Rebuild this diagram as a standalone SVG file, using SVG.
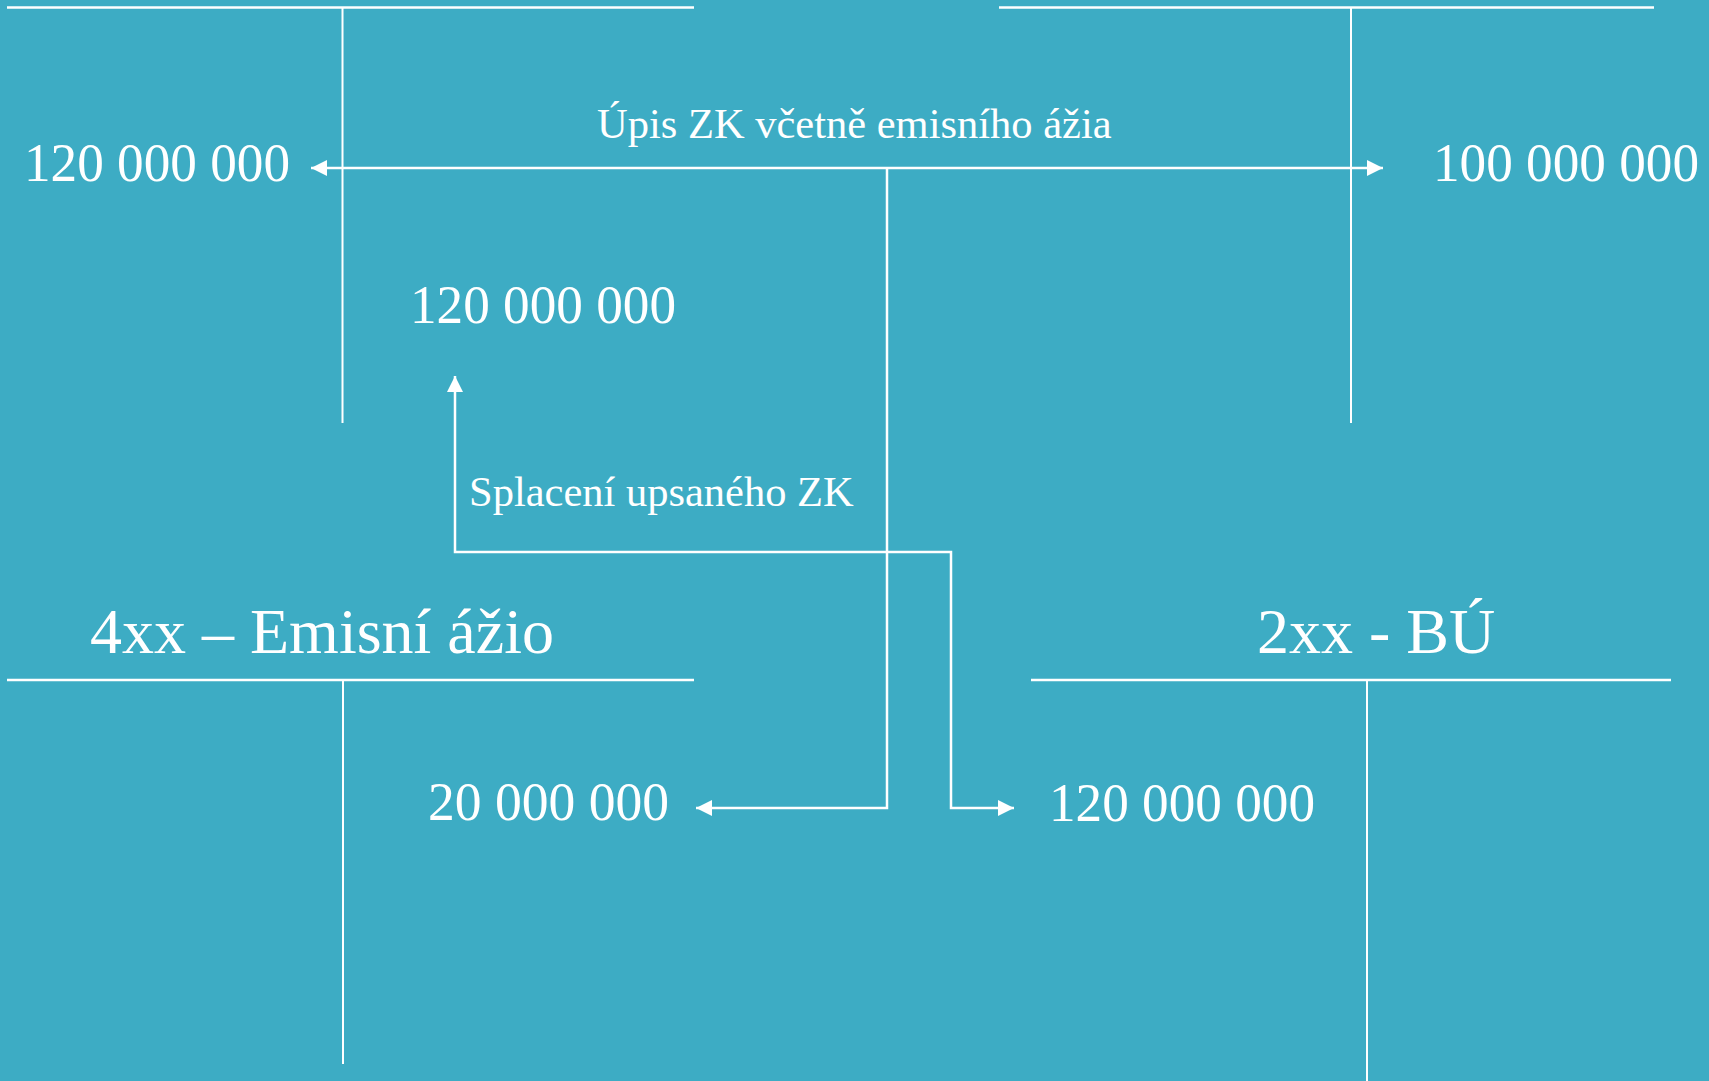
<svg xmlns="http://www.w3.org/2000/svg" width="1709" height="1081" viewBox="0 0 1709 1081">
<style>
.t{font-family:"Liberation Serif","Times New Roman",serif;fill:#ffffff}
.num{font-size:54px}
.lbl{font-size:42.5px}
.ttl{font-size:64px}
.h{stroke:#ffffff;stroke-width:2.5;fill:none}
.v{stroke:#ffffff;stroke-width:2;fill:none}
.c{stroke:#ffffff;stroke-width:2.5;fill:none}
</style>
<defs>
<marker id="ah" viewBox="0 0 16 16" refX="16" refY="8" markerWidth="16" markerHeight="16" markerUnits="userSpaceOnUse" orient="auto-start-reverse">
<path d="M0,0 L16,8 L0,16 z" fill="#ffffff"/>
</marker>
</defs>
<rect x="0" y="0" width="1709" height="1081" fill="#3dacc4"/>
<g id="acc-zk">
<line class="h" x1="7" y1="7.5" x2="694" y2="7.5"/>
<line class="v" x1="342.5" y1="8" x2="342.5" y2="423"/>
<text class="t num" x="24" y="181" textLength="266" lengthAdjust="spacingAndGlyphs">120 000 000</text>
<text class="t num" x="410" y="323" textLength="266" lengthAdjust="spacingAndGlyphs">120 000 000</text>
</g>
<g id="acc-right">
<line class="h" x1="999" y1="7.5" x2="1654" y2="7.5"/>
<line class="v" x1="1351" y1="8" x2="1351" y2="423"/>
<text class="t num" x="1433" y="181" textLength="266" lengthAdjust="spacingAndGlyphs">100 000 000</text>
</g>
<g id="acc-4xx">
<text class="t ttl" x="90" y="653">4xx – Emisní ážio</text>
<line class="h" x1="7" y1="680" x2="694" y2="680"/>
<line class="v" x1="343" y1="680" x2="343" y2="1064"/>
<text class="t num" x="428" y="820" textLength="241" lengthAdjust="spacingAndGlyphs">20 000 000</text>
</g>
<g id="acc-2xx">
<text class="t ttl" x="1257" y="653">2xx - BÚ</text>
<line class="h" x1="1031" y1="680" x2="1671" y2="680"/>
<line class="v" x1="1367" y1="680" x2="1367" y2="1081"/>
<text class="t num" x="1049" y="821" textLength="266" lengthAdjust="spacingAndGlyphs">120 000 000</text>
</g>
<g id="connectors">
<path class="c" d="M311,168 L1383,168" marker-start="url(#ah)" marker-end="url(#ah)"/>
<path class="c" d="M887,168 L887,808 L696,808" marker-end="url(#ah)"/>
<path class="c" d="M455,376 L455,552 L951,552 L951,808 L1014,808" marker-start="url(#ah)" marker-end="url(#ah)"/>
<text class="t lbl" x="597" y="138">Úpis ZK včetně emisního ážia</text>
<text class="t lbl" x="469" y="506">Splacení upsaného ZK</text>
</g>
</svg>
